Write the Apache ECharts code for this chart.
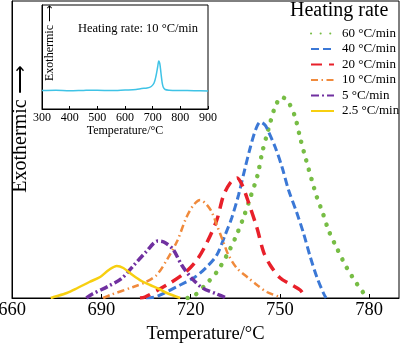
<!DOCTYPE html>
<html><head><meta charset="utf-8">
<script src="https://cdn.jsdelivr.net/npm/echarts@6/dist/echarts.min.js"></script>
<style>html,body{margin:0;padding:0;background:#fff}#c{width:400px;height:345px}</style>
</head><body><div id="c"></div>
<script>
const FONT = '"Liberation Serif","Times New Roman",serif';

// Legend / series names
const names = ['60 \u00b0C/min', '40 \u00b0C/min', '20 \u00b0C/min', '10 \u00b0C/min', '5 \u00b0C/min', '2.5 \u00b0C/min'];

// Main chart data: temperature (°C) and heat-flow signal (arbitrary units)
const t60 = [719, 721.5, 724.9, 728.8, 732.2, 735.0, 737.7, 740.0, 742.5, 744.0, 745.6, 746.7, 748.5, 750.6, 752.8, 755.1, 756.8, 758.8, 760.7, 762.4, 764.4, 766.3, 769.1, 772.5, 775.9, 778.1, 779.5];
const h60 = [0, 3, 13, 26, 43, 60, 80, 100, 123, 145, 163, 175, 192, 201, 196, 181, 160, 138, 118, 101, 85, 68, 50, 30, 14, 5, 0];

const t40 = [705, 708.6, 716.5, 721.5, 725.4, 728.8, 731.6, 733.8, 736.1, 738.3, 740, 741.8, 743.4, 745, 746.2, 748.4, 750.7, 752.9, 755.7, 757.9, 760.2, 762.4, 764.6, 765.5];
const h40 = [0, 1.5, 13, 21, 31, 43, 63, 80, 103, 130, 150, 168, 176, 173, 166, 151, 131, 108, 85, 65, 41, 21, 5, 0];

const t20 = [703, 704.7, 713.1, 718, 722.1, 725.4, 728.8, 731.0, 733.3, 735.6, 737.3, 739.4, 742.3, 744.5, 746.7, 750.1, 754.0, 756.8, 757.8];
const h20 = [0, 1, 15, 25, 38, 55, 78, 102, 115, 120, 113, 96, 70, 46, 33, 20, 13, 8, 4];

const t10 = [690.6, 693, 700.7, 705, 708.6, 712, 715.5, 718.5, 721, 723.2, 725.2, 727.1, 728.8, 731.0, 732.7, 735.5, 739.4, 742.3, 745.6, 750.1];
const h10 = [0, 3, 11, 16, 23, 38, 57, 80, 93, 98, 94, 86, 73, 56, 43, 30, 20, 13, 6, 1];

const t5 = [685, 687, 692.5, 697, 701, 705, 709, 711, 714, 717, 720, 724, 728.8, 732];
const h5 = [0, 4, 12, 20, 33, 46, 57, 56, 49, 33, 21, 10, 4, 0];

const t2 = [673, 674, 678.4, 682, 686, 689.6, 692.5, 695.2, 697.4, 700.5, 703.5, 706.4, 709.5, 712, 716.5];
const h2 = [0, 1, 5, 10, 16, 21, 28, 32, 30, 23, 17, 13, 9, 5, 0];

// Inset data (10 °C/min, wide range)
const insetT = [300, 350, 400, 450, 500, 550, 600, 640, 660, 680, 695, 705, 712, 718, 722, 726, 730, 734, 738, 745, 760, 800, 850, 900];
const insetH = [18.5, 18.8, 18.3, 18.6, 18.8, 18.4, 19, 19.5, 20.5, 21, 22.5, 26, 33, 42, 48, 45, 36, 27, 22, 19.5, 18.8, 18.5, 18.3, 18];

const mainXTicks = {min: 660, max: 790, interval: 30};
const insetXTicks = {min: 300, max: 900, interval: 100};

function pairs(t, h) { return t.map((v, i) => [v, h[i]]); }

const styles = [
  {color: '#77bd45', width: 4.5, type: [0.1, 9.5], cap: 'round'},
  {color: '#3b78d6', width: 3, type: [8, 4], cap: 'butt'},
  {color: '#e8202a', width: 3.5, type: [11, 7], cap: 'butt'},
  {color: '#f08a3c', width: 2.5, type: [7, 3.5, 1.5, 3.5], cap: 'butt'},
  {color: '#7030a0', width: 3.5, type: [8, 3, 2, 3], cap: 'butt'},
  {color: '#f7cf10', width: 2.5, type: 'solid', cap: 'butt'}
];
const dataSets = [[t60, h60], [t40, h40], [t20, h20], [t10, h10], [t5, h5], [t2, h2]];

const series = dataSets.map((d, i) => ({
  name: names[i], type: 'line', xAxisIndex: 0, yAxisIndex: 0,
  data: pairs(d[0], d[1]), symbol: 'none', smooth: 0.3,
  lineStyle: {color: styles[i].color, width: styles[i].width, type: styles[i].type, cap: styles[i].cap},
  itemStyle: {color: styles[i].color}
}));
series.push({
  name: 'inset', type: 'line', xAxisIndex: 1, yAxisIndex: 1,
  data: pairs(insetT, insetH), symbol: 'none', smooth: 0.3,
  lineStyle: {color: '#3fc3e6', width: 1.5}
});

const chart = echarts.init(document.getElementById('c'), null, {renderer: 'canvas'});
chart.setOption({
  animation: false,
  backgroundColor: '#fff',
  title: {text: 'Heating rate', left: 290, top: 1, padding: 0,
    textStyle: {fontFamily: FONT, fontSize: 20, fontWeight: 'normal', color: '#000'}},
  legend: {
    data: names, orient: 'vertical', left: 310, top: 27, padding: 0,
    itemWidth: 23, itemHeight: 10, itemGap: 2.5,
    itemStyle: {opacity: 0},
    textStyle: {fontFamily: FONT, fontSize: 13, color: '#000', lineHeight: 10, padding: [0, 0, 0, 3]}
  },
  grid: [
    {left: 12, top: 1, right: 1, bottom: 47, show: true, borderColor: '#000', borderWidth: 1, outerBoundsMode: 'none', containLabel: false},
    {left: 42, top: 5, width: 166, height: 104, show: true, borderColor: '#000', borderWidth: 1, backgroundColor: '#fff', outerBoundsMode: 'none', containLabel: false}
  ],
  xAxis: [
    {type: 'value', gridIndex: 0, min: mainXTicks.min, max: mainXTicks.max, interval: mainXTicks.interval,
      axisLine: {lineStyle: {color: '#000', width: 1}},
      axisTick: {inside: true, length: 4, lineStyle: {color: '#000'}},
      axisLabel: {fontFamily: FONT, fontSize: 18.5, color: '#000', margin: 3, showMaxLabel: false},
      splitLine: {show: false},
      name: 'Temperature/\u00b0C', nameLocation: 'middle', nameGap: 14,
      nameTextStyle: {fontFamily: FONT, fontSize: 18.5, color: '#000', verticalAlign: 'top'}},
    {type: 'value', gridIndex: 1, min: insetXTicks.min, max: insetXTicks.max, interval: insetXTicks.interval,
      axisLine: {lineStyle: {color: '#000', width: 1}},
      axisTick: {inside: true, length: 3, lineStyle: {color: '#000'}},
      axisLabel: {fontFamily: FONT, fontSize: 12, color: '#000', margin: 3},
      splitLine: {show: false},
      name: 'Temperature/\u00b0C', nameLocation: 'middle', nameGap: 16,
      nameTextStyle: {fontFamily: FONT, fontSize: 12, color: '#000', verticalAlign: 'top'}}
  ],
  yAxis: [
    {type: 'value', gridIndex: 0, min: 0, max: 297, axisLine: {show: true, lineStyle: {color: '#000'}},
      axisTick: {show: false}, axisLabel: {show: false}, splitLine: {show: false}},
    {type: 'value', gridIndex: 1, min: 0, max: 104, axisLine: {show: true, lineStyle: {color: '#000'}},
      axisTick: {show: false}, axisLabel: {show: false}, splitLine: {show: false}}
  ],
  graphic: [
    {type: 'text', x: 21, y: 129, rotation: Math.PI / 2,
      style: {text: 'Exothermic \u27f6', fontFamily: FONT, fontSize: 20, fill: '#000', align: 'center', verticalAlign: 'middle'}},
    {type: 'text', x: 50, y: 43, rotation: Math.PI / 2, z: 100,
      style: {text: 'Exothermic \u27f6', fontFamily: FONT, fontSize: 12, fill: '#000', align: 'center', verticalAlign: 'middle'}},
    {type: 'text', x: 78, y: 29, z: 100,
      style: {text: 'Heating rate: 10 \u00b0C/min', fontFamily: FONT, fontSize: 12.5, fill: '#000', align: 'left', verticalAlign: 'middle'}}
  ],
  series: series
});
</script></body></html>
